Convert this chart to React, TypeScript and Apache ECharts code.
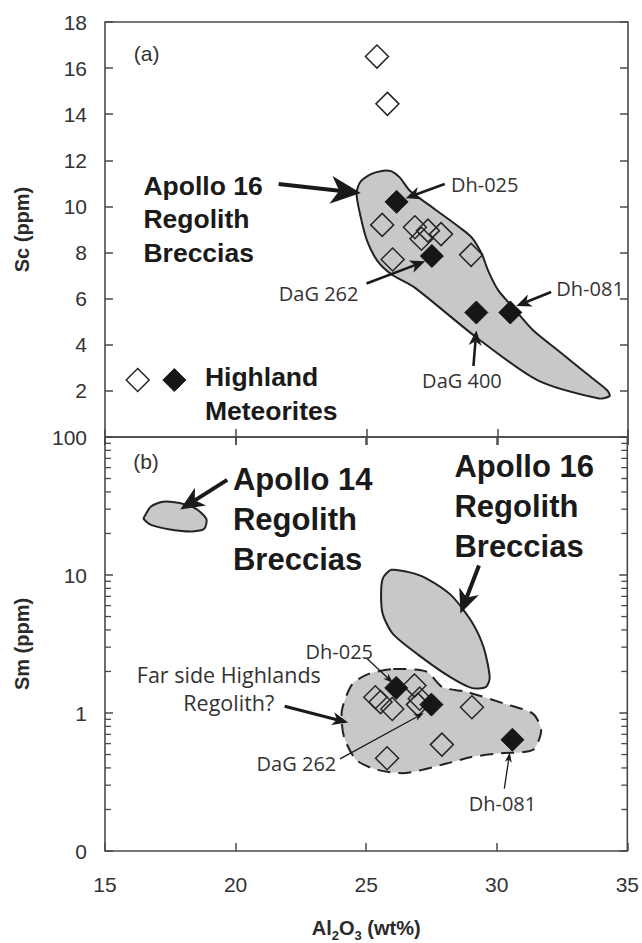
import React, { useEffect, useRef } from "react";
import * as echarts from "echarts";

// ---------- axes ----------
const X_MIN = 15;
const X_MAX = 35;
const SC_MAX = 18;
const SM_MIN = 0.1;
const SM_MAX = 100;
const smMinorTicks = [20, 30, 40, 50, 60, 70, 80, 90, 2, 3, 4, 5, 6, 7, 8, 9, 0.2, 0.3, 0.4, 0.5, 0.6, 0.7, 0.8, 0.9];

// ---------- (a) Sc vs Al2O3 ----------
const scOpen = [
  [25.4, 16.5], [25.8, 14.45], [25.6, 9.2], [26.85, 9.1], [27.35, 8.95],
  [27.85, 8.8], [27.1, 8.6], [26.0, 7.7], [29.0, 7.9],
];
const scFilled = [[26.15, 10.2], [27.5, 7.85], [29.2, 5.4], [30.5, 5.4]];
const legendOpen = [[16.25, 2.47]];
const legendFilled = [[17.65, 2.47]];
const scApollo16 = [
  [25.64, 11.55], [25.96, 11.52], [26.27, 11.26], [26.66, 10.68], [27.6, 9.89],
  [28.55, 9.1], [29.02, 8.66], [29.41, 7.94], [29.65, 7.22], [30.04, 6.36],
  [30.59, 5.64], [31.37, 4.63], [32.47, 3.62], [33.57, 2.61], [34.2, 2.03],
  [34.3, 1.78], [33.89, 1.67], [31.53, 2.47], [29.18, 4.34], [26.82, 6.5],
  [25.96, 7.05], [25.41, 7.65], [25.02, 8.52], [24.78, 9.53], [24.62, 10.54],
  [24.75, 11.04], [25.17, 11.4],
];
const scArrowsHeavy = [[21.64, 10.97, 24.78, 10.58]];
const scArrowsMedium = [
  [27.99, 10.97, 26.5, 10.36],
  [25.0, 6.66, 27.24, 7.62],
  [32.06, 6.29, 30.73, 5.68],
  [29.09, 3.08, 29.2, 4.62],
];
// [text, x, y, kind, align]
const scTexts = [
  ["(a)", 16.59, 16.65, "tag", "center"],
  ["Apollo 16\nRegolith\nBreccias", 16.47, 9.45, "bigTop", "left"],
  ["Dh-025", 28.23, 10.97, "lbl", "left"],
  ["DaG 262", 23.17, 6.24, "lbl", "center"],
  ["Dh-081", 33.55, 6.46, "lbl", "center"],
  ["DaG 400", 28.65, 2.43, "lbl", "center"],
  ["Highland\nMeteorites", 18.82, 1.86, "bigTop", "left"],
];

// ---------- (b) Sm vs Al2O3 ----------
const smOpen = [
  [25.35, 1.3], [25.55, 1.2], [26.0, 1.07], [26.85, 1.58], [27.05, 1.27],
  [26.98, 1.15], [29.05, 1.1], [27.9, 0.59], [25.8, 0.47],
];
const smFilled = [[26.15, 1.52], [27.5, 1.15], [30.6, 0.64]];
const smApollo14 = [
  [16.53, 26.9], [16.76, 31.4], [17.23, 34.0], [17.86, 33.2], [18.49, 30.1],
  [18.88, 25.5], [18.8, 21.6], [18.33, 20.7], [17.55, 21.3], [16.76, 23.1], [16.48, 25.5],
];
const smApollo16 = [
  [25.96, 10.9], [26.67, 10.45], [27.3, 9.47], [28.24, 7.18], [29.03, 4.62],
  [29.5, 2.98], [29.73, 1.81], [29.58, 1.54], [29.03, 1.52], [28.24, 1.81],
  [27.14, 2.52], [26.04, 3.71], [25.64, 5.16], [25.57, 7.18], [25.64, 9.47],
];
const smFarSide = [
  [26.04, 2.08], [27.3, 2.0], [27.92, 1.54], [28.87, 1.42], [30.28, 1.17],
  [31.38, 0.99], [31.7, 0.75], [31.38, 0.54], [30.12, 0.51], [29.03, 0.48],
  [28.08, 0.43], [26.5, 0.367], [25.41, 0.388], [24.62, 0.457], [24.15, 0.673],
  [24.07, 1.04], [24.47, 1.62], [25.1, 1.92],
];
const smArrowsHeavy = [[19.68, 48.9, 17.88, 29.8], [29.32, 11.7, 28.61, 5.25]];
const smArrowsMedium = [[21.88, 1.12, 24.31, 0.852]];
const smArrowsThin = [
  [25.01, 2.5, 26.03, 1.65],
  [24.0, 0.465, 27.21, 1.0],
  [30.29, 0.283, 30.5, 0.519],
];
const smTexts = [
  ["(b)", 16.57, 67, "tag", "center"],
  ["Apollo 14\nRegolith\nBreccias", 19.9, 25.1, "bigBot", "left"],
  ["Apollo 16\nRegolith\nBreccias", 28.38, 31.5, "bigBot", "left"],
  ["Dh-025", 23.97, 2.79, "lbl", "center"],
  ["Far side Highlands\nRegolith?", 19.74, 1.51, "lbl2", "center"],
  ["DaG 262", 22.33, 0.428, "lbl", "center"],
  ["Dh-081", 30.22, 0.221, "lbl", "center"],
];

// ---------- styles ----------
const SANS = "'Liberation Sans', Arial, Helvetica, sans-serif";
const HUMAN = "'Open Sans', 'Noto Sans', sans-serif";
const INK = "#1a1a1a";
const AX = "#4a4a4a";
const textKinds: Record<string, any> = {
  tag: { fontSize: 21, fontWeight: "normal", fontFamily: SANS, fill: "#333", lineHeight: 24 },
  bigTop: { fontSize: 26.5, fontWeight: "bold", fontFamily: SANS, fill: INK, lineHeight: 33.5 },
  bigBot: { fontSize: 31, fontWeight: "bold", fontFamily: SANS, fill: INK, lineHeight: 40 },
  lbl: { fontSize: 20, fontWeight: "normal", fontFamily: HUMAN, fill: "#333", lineHeight: 22 },
  lbl2: { fontSize: 21.5, fontWeight: "normal", fontFamily: HUMAN, fill: "#333", lineHeight: 28 },
};

function regionSeries(points: number[][], xi: number, yi: number, dashed: boolean) {
  return {
    type: "custom",
    xAxisIndex: xi,
    yAxisIndex: yi,
    z: 1,
    silent: true,
    clip: false,
    data: points,
    encode: { x: 0, y: 1 },
    renderItem: (params: any, api: any) => {
      if (params.dataIndex !== 0) return null;
      const pts = points.map((p) => api.coord(p));
      return {
        type: "polygon",
        shape: { points: pts, smooth: 0.25 },
        style: {
          fill: "#c8c8c8",
          stroke: "#222",
          lineWidth: 2,
          lineDash: dashed ? [13, 8] : null,
        },
      };
    },
  };
}

function arrowSeries(arrows: number[][], xi: number, yi: number, w: number, hl: number, hw: number) {
  return {
    type: "custom",
    xAxisIndex: xi,
    yAxisIndex: yi,
    z: 6,
    silent: true,
    clip: false,
    data: arrows,
    dimensions: ["x1", "y1", "x2", "y2"],
    encode: { x: [0, 2], y: [1, 3] },
    renderItem: (params: any, api: any) => {
      const a = api.coord([api.value(0), api.value(1)]);
      const b = api.coord([api.value(2), api.value(3)]);
      const dx = b[0] - a[0];
      const dy = b[1] - a[1];
      const L = Math.hypot(dx, dy) || 1;
      const ux = dx / L;
      const uy = dy / L;
      const nx = -uy;
      const ny = ux;
      const base = [b[0] - ux * hl, b[1] - uy * hl];
      const back = [b[0] - ux * hl * 0.72, b[1] - uy * hl * 0.72];
      return {
        type: "group",
        children: [
          {
            type: "line",
            shape: { x1: a[0], y1: a[1], x2: back[0], y2: back[1] },
            style: { stroke: INK, lineWidth: w },
          },
          {
            type: "polygon",
            shape: {
              points: [
                b,
                [base[0] + (nx * hw) / 2, base[1] + (ny * hw) / 2],
                back,
                [base[0] - (nx * hw) / 2, base[1] - (ny * hw) / 2],
              ],
            },
            style: { fill: INK },
          },
        ],
      };
    },
  };
}

function textSeries(items: any[], xi: number, yi: number) {
  return {
    type: "custom",
    xAxisIndex: xi,
    yAxisIndex: yi,
    z: 7,
    silent: true,
    clip: false,
    data: items.map((t) => [t[1], t[2]]),
    encode: { x: 0, y: 1 },
    renderItem: (params: any, api: any) => {
      const it = items[params.dataIndex];
      const st = textKinds[it[3]];
      const p = api.coord([api.value(0), api.value(1)]);
      return {
        type: "text",
        x: p[0],
        y: p[1],
        style: {
          text: it[0],
          fill: st.fill,
          fontSize: st.fontSize,
          fontWeight: st.fontWeight,
          fontFamily: st.fontFamily,
          lineHeight: st.lineHeight,
          align: it[4],
          verticalAlign: "middle",
        },
      };
    },
  };
}

function minorTickSeries(vals: number[], xi: number, yi: number) {
  return {
    type: "custom",
    xAxisIndex: xi,
    yAxisIndex: yi,
    z: 3,
    silent: true,
    clip: false,
    data: vals.map((v) => [X_MIN, v]),
    encode: { x: 0, y: 1 },
    renderItem: (params: any, api: any) => {
      const v = api.value(1);
      const p = api.coord([X_MIN, v]);
      const q = api.coord([X_MAX, v]);
      return {
        type: "group",
        children: [
          { type: "line", shape: { x1: p[0], y1: p[1], x2: p[0] + 6, y2: p[1] }, style: { stroke: AX, lineWidth: 1.3 } },
          { type: "line", shape: { x1: q[0], y1: q[1], x2: q[0] - 6, y2: q[1] }, style: { stroke: AX, lineWidth: 1.3 } },
        ],
      };
    },
  };
}

function diamonds(data: number[][], xi: number, yi: number, filled: boolean) {
  return {
    type: "scatter",
    xAxisIndex: xi,
    yAxisIndex: yi,
    z: 4,
    silent: true,
    symbol: "diamond",
    symbolSize: [23, 23],
    data,
    itemStyle: filled
      ? { color: "#161616", borderColor: "#161616", borderWidth: 1, opacity: 1 }
      : { color: "rgba(0,0,0,0)", borderColor: "#262626", borderWidth: 1.5, opacity: 1 },
  };
}

const tickStyle = { show: true, inside: true, length: 8, lineStyle: { color: AX, width: 1.5 } };
const xBase = {
  type: "value",
  min: X_MIN,
  max: X_MAX,
  interval: 5,
  splitLine: { show: false },
  axisLine: { show: false },
  axisTick: tickStyle,
};
const labelStyle = { fontSize: 21, color: "#333", fontFamily: SANS };

const option: any = {
  animation: false,
  backgroundColor: "#fff",
  grid: [
    { left: 105, top: 22, width: 523, height: 415, show: true, borderColor: AX, borderWidth: 1.6, backgroundColor: "transparent" },
    { left: 105, top: 437, width: 523, height: 418, show: true, borderColor: AX, borderWidth: 1.6, backgroundColor: "transparent" },
  ],
  xAxis: [
    { ...xBase, gridIndex: 0, position: "bottom", axisLabel: { show: false } },
    { ...xBase, gridIndex: 0, position: "top", axisLabel: { show: false } },
    {
      ...xBase,
      gridIndex: 1,
      position: "bottom",
      axisLabel: { ...labelStyle, margin: 23 },
      name: "{a|Al}{s|2}{a|O}{s|3}{a| (wt%)}",
      nameLocation: "middle",
      nameGap: 63,
      nameTextStyle: {
        rich: {
          a: { fontSize: 20, fontWeight: "bold", fontFamily: SANS, color: "#2a2a2a", lineHeight: 28 },
          s: { fontSize: 13, fontWeight: "bold", fontFamily: SANS, color: "#2a2a2a", lineHeight: 13, verticalAlign: "bottom" },
        },
      },
    },
    { ...xBase, gridIndex: 1, position: "top", axisLabel: { show: false } },
  ],
  yAxis: [
    {
      type: "value",
      gridIndex: 0,
      position: "left",
      min: 0,
      max: SC_MAX,
      interval: 2,
      splitLine: { show: false },
      axisLine: { show: false },
      axisTick: tickStyle,
      axisLabel: { ...labelStyle, margin: 18, showMinLabel: false },
      name: "Sc (ppm)",
      nameLocation: "middle",
      nameGap: 73,
      nameTextStyle: { fontSize: 20, fontWeight: "bold", fontFamily: SANS, color: "#2a2a2a" },
    },
    {
      type: "value",
      gridIndex: 0,
      position: "right",
      min: 0,
      max: SC_MAX,
      interval: 2,
      splitLine: { show: false },
      axisLine: { show: false },
      axisTick: tickStyle,
      axisLabel: { show: false },
    },
    {
      type: "log",
      logBase: 10,
      gridIndex: 1,
      position: "left",
      min: SM_MIN,
      max: SM_MAX,
      splitLine: { show: false },
      axisLine: { show: false },
      axisTick: tickStyle,
      axisLabel: {
        ...labelStyle,
        margin: 18,
        formatter: (v: number) => (v < 1 ? "0" : String(Math.round(v))),
      },
      name: "Sm (ppm)",
      nameLocation: "middle",
      nameGap: 73,
      nameTextStyle: { fontSize: 20, fontWeight: "bold", fontFamily: SANS, color: "#2a2a2a" },
    },
    {
      type: "log",
      logBase: 10,
      gridIndex: 1,
      position: "right",
      min: SM_MIN,
      max: SM_MAX,
      splitLine: { show: false },
      axisLine: { show: false },
      axisTick: tickStyle,
      axisLabel: { show: false },
    },
  ],
  series: [
    regionSeries(scApollo16, 0, 0, false),
    regionSeries(smApollo14, 2, 2, false),
    regionSeries(smApollo16, 2, 2, false),
    regionSeries(smFarSide, 2, 2, true),
    minorTickSeries(smMinorTicks, 2, 2),
    diamonds(scOpen, 0, 0, false),
    diamonds(scFilled, 0, 0, true),
    diamonds(legendOpen, 0, 0, false),
    diamonds(legendFilled, 0, 0, true),
    diamonds(smOpen, 2, 2, false),
    diamonds(smFilled, 2, 2, true),
    arrowSeries(scArrowsHeavy, 0, 0, 4, 30, 28),
    arrowSeries(scArrowsMedium, 0, 0, 2.6, 15, 13),
    arrowSeries(smArrowsHeavy, 2, 2, 4, 24, 21),
    arrowSeries(smArrowsMedium, 2, 2, 3.2, 16, 13),
    arrowSeries(smArrowsThin, 2, 2, 1.3, 10, 7),
    textSeries(scTexts, 0, 0),
    textSeries(smTexts, 2, 2),
  ],
};

export default function App() {
  const ref = useRef<HTMLDivElement>(null);
  useEffect(() => {
    const chart = echarts.init(ref.current as HTMLDivElement, null, { renderer: "svg" });
    chart.setOption(option);
    return () => chart.dispose();
  }, []);
  return (
    <div
      ref={ref}
      style={{ position: "fixed", left: 0, top: 0, width: 642, height: 943, background: "#fff" }}
    />
  );
}
